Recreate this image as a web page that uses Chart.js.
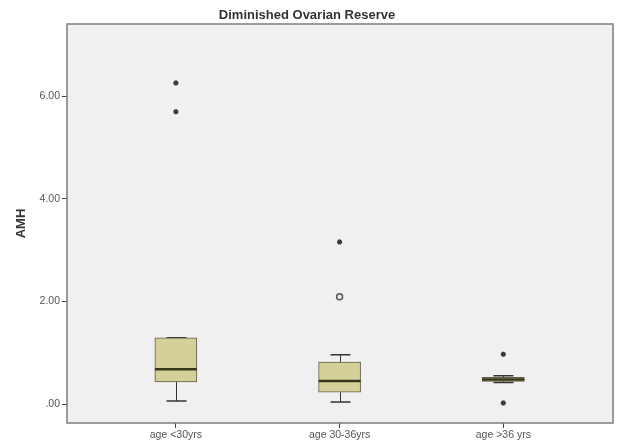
<!DOCTYPE html>
<html>
<head>
<meta charset="utf-8">
<script src="https://cdn.jsdelivr.net/npm/chart.js@4.4.1/dist/chart.umd.min.js"></script>
<style>
  html, body { margin: 0; padding: 0; background: #ffffff; }
  #wrap { width: 619px; height: 448px; }
</style>
</head>
<body>
<div id="wrap"><canvas id="c" width="619" height="448"></canvas></div>
<script>
// ---- data ----
const categories   = ['age <30yrs', 'age 30-36yrs', 'age >36 yrs'];
const categoryPos  = [1, 2, 3];
const whiskerLow   = [0.06, 0.04, 0.42];
const q1           = [0.43, 0.23, 0.44];
const median       = [0.68, 0.45, 0.48];
const q3           = [1.29, 0.82, 0.52];
const whiskerHigh  = [1.29, 0.96, 0.55];
const extremeX     = [1, 1, 2, 3, 3];
const extremeY     = [6.26, 5.70, 3.16, 0.97, 0.02];
const outlierX     = [2];
const outlierY     = [2.09];
const yTicks       = [0, 2, 4, 6];
const yTickLabels  = ['.00', '2.00', '4.00', '6.00'];

// ---- build datasets ----
const boxData = categoryPos.map((x, i) => ({ x: x, y: [q1[i], q3[i]] }));
const extremeData = extremeX.map((x, i) => ({ x: x, y: extremeY[i] }));
const outlierData = outlierX.map((x, i) => ({ x: x, y: outlierY[i] }));

const BOX_W = 42, CAP_W = 20;
const FONT = 'Liberation Sans, Arial, sans-serif';

const boxPlugin = {
  id: 'boxPlugin',
  beforeDraw(chart) {
    const { ctx, chartArea: a } = chart;
    ctx.save();
    ctx.fillStyle = '#f0f0f0';
    ctx.fillRect(a.left, a.top, a.right - a.left, a.bottom - a.top);
    ctx.restore();
  },
  beforeDatasetsDraw(chart) {
    const { ctx, scales: { x, y } } = chart;
    ctx.save();
    ctx.strokeStyle = '#333333';
    categoryPos.forEach((c, i) => {
      const px = Math.round(x.getPixelForValue(c)) + 0.5;
      ctx.lineWidth = 1;
      ctx.beginPath();
      ctx.moveTo(px, y.getPixelForValue(whiskerLow[i]));
      ctx.lineTo(px, y.getPixelForValue(q1[i]));
      ctx.moveTo(px, y.getPixelForValue(q3[i]));
      ctx.lineTo(px, y.getPixelForValue(whiskerHigh[i]));
      ctx.stroke();
      ctx.lineWidth = 1.5;
      ctx.beginPath();
      [whiskerLow[i], whiskerHigh[i]].forEach(v => {
        const py = y.getPixelForValue(v);
        ctx.moveTo(px - CAP_W / 2, py);
        ctx.lineTo(px + CAP_W / 2, py);
      });
      ctx.stroke();
    });
    ctx.restore();
  },
  afterDatasetsDraw(chart) {
    const { ctx, scales: { x, y } } = chart;
    ctx.save();
    ctx.strokeStyle = '#36361a';
    ctx.lineWidth = 2.5;
    categoryPos.forEach((c, i) => {
      const px = x.getPixelForValue(c);
      const py = y.getPixelForValue(median[i]);
      ctx.beginPath();
      ctx.moveTo(px - BOX_W / 2, py);
      ctx.lineTo(px + BOX_W / 2, py);
      ctx.stroke();
    });
    ctx.restore();
  },
  afterDraw(chart) {
    const { ctx, chartArea: a } = chart;
    ctx.save();
    ctx.strokeStyle = '#7d7d7d';
    ctx.lineWidth = 1.5;
    ctx.strokeRect(a.left, a.top, a.right - a.left, a.bottom - a.top);
    ctx.restore();
  }
};

new Chart(document.getElementById('c'), {
  type: 'bar',
  data: {
    datasets: [
      {
        type: 'bar',
        data: boxData,
        backgroundColor: '#d5d098',
        borderColor: '#5f5f48',
        borderWidth: 1,
        borderSkipped: false,
        barThickness: BOX_W,
        order: 2
      },
      {
        type: 'scatter',
        data: extremeData,
        pointStyle: 'star',
        radius: 2.5,
        borderColor: '#3c3c3c',
        backgroundColor: '#3c3c3c',
        borderWidth: 2,
        order: 1
      },
      {
        type: 'scatter',
        data: outlierData,
        pointStyle: 'circle',
        radius: 3,
        borderColor: '#555555',
        backgroundColor: 'rgba(0,0,0,0)',
        borderWidth: 1.5,
        order: 1
      }
    ]
  },
  options: {
    responsive: false,
    animation: false,
    events: [],
    layout: { padding: { left: 0, right: 5, top: 0, bottom: 0 } },
    plugins: {
      legend: { display: false },
      tooltip: { enabled: false },
      title: {
        display: true,
        text: 'Diminished Ovarian Reserve',
        color: '#333333',
        font: { family: FONT, size: 13, weight: 'bold', lineHeight: 1.2 },
        padding: { top: 8, bottom: 0.4 }
      }
    },
    scales: {
      x: {
        type: 'linear',
        offset: false,
        min: 0.335,
        max: 3.67,
        afterBuildTicks: s => { s.ticks = categoryPos.map(v => ({ value: v })); },
        afterFit: s => { s.height = 25; },
        ticks: {
          callback: (v) => categories[categoryPos.indexOf(v)] || '',
          color: '#555555',
          font: { family: FONT, size: 10.5 },
          padding: 1,
          maxRotation: 0,
          autoSkip: false
        },
        grid: { display: true, offset: false, drawOnChartArea: false, drawTicks: true, tickLength: 5, color: '#444444', lineWidth: 1 },
        border: { display: false }
      },
      y: {
        type: 'linear',
        min: -0.37,
        max: 7.41,
        afterBuildTicks: s => { s.ticks = yTicks.map(v => ({ value: v })); },
        afterFit: s => { s.width = 67; },
        ticks: {
          callback: (v) => yTickLabels[yTicks.indexOf(v)] || '',
          color: '#555555',
          font: { family: FONT, size: 10.5 },
          padding: 2
        },
        grid: { display: true, drawOnChartArea: false, drawTicks: true, tickLength: 5, color: '#444444', lineWidth: 1 },
        border: { display: false },
        title: {
          display: true,
          text: 'AMH',
          color: '#333333',
          font: { family: FONT, size: 13, weight: 'bold', lineHeight: 1.2 },
          padding: { top: 14, bottom: 0 }
        }
      }
    }
  },
  plugins: [boxPlugin]
});
</script>
</body>
</html>
